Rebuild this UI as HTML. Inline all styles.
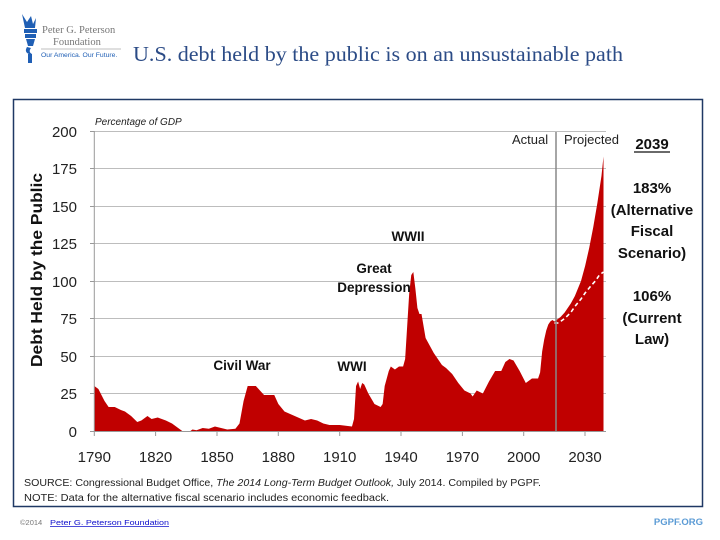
<!DOCTYPE html>
<html><head><meta charset="utf-8"><style>
html,body{margin:0;padding:0;background:#fff;}
body{width:720px;height:540px;overflow:hidden;position:relative;font-family:"Liberation Sans",sans-serif;}
</style></head><body>
<svg width="720" height="540" viewBox="0 0 720 540" xmlns="http://www.w3.org/2000/svg" style="position:absolute;left:0;top:0">
<!-- logo -->
<g fill="#1f5fb5">
<path d="M22 14 L27 22 L31 16 L33 24 L36 18 L35 28 L25 28 Z"/>
<rect x="24" y="29" width="13" height="4"/>
<rect x="25" y="34" width="11" height="4"/>
<path d="M26 39 L35 39 L33 46 L28 46 Z"/>
<path d="M27 47 Q24 52 29 54 L32 54 Q28 52 31 48 Z"/>
<rect x="28" y="54" width="4" height="9"/>
</g>
<text x="42" y="33" font-family="Liberation Serif,serif" font-size="10.5" fill="#777">Peter G. Peterson</text>
<text x="53" y="45" font-family="Liberation Serif,serif" font-size="10.5" fill="#777">Foundation</text>
<line x1="41" y1="49" x2="121" y2="49" stroke="#aaa" stroke-width="0.8"/>
<text x="41" y="57" font-size="6.8" fill="#1f5fb5">Our America. Our Future.</text>
<text x="133" y="61" font-family="Liberation Serif,serif" font-size="21.5" fill="#2b4b86" textLength="490" lengthAdjust="spacingAndGlyphs">U.S. debt held by the public is on an unsustainable path</text>

<!-- box -->
<rect x="13.5" y="99.5" width="689" height="407" fill="none" stroke="#1f3864" stroke-width="1.5"/>

<!-- gridlines -->
<g stroke="#bdbdbd" stroke-width="1">
<line x1="94" y1="131.5" x2="606" y2="131.5"/>
<line x1="94" y1="168.5" x2="606" y2="168.5"/>
<line x1="94" y1="206.5" x2="606" y2="206.5"/>
<line x1="94" y1="243.5" x2="606" y2="243.5"/>
<line x1="94" y1="281.5" x2="606" y2="281.5"/>
<line x1="94" y1="318.5" x2="606" y2="318.5"/>
<line x1="94" y1="356.5" x2="606" y2="356.5"/>
<line x1="94" y1="393.5" x2="606" y2="393.5"/>
</g>

<!-- area -->
<g transform="translate(94.3 431) scale(2.045 -1.5)">
<polygon fill="#c00000" points="0,0 0,30 2,28 5,20 7,16 10,16 13,14 15,13 18,10 21,6 23,7 26,10 28,8 31,9 35,7 38,5 41,2 43,0 45,0 47,0 48,1 50,0.5 53,2 56,1.5 59,3 62,2 65,1 69,1.5 71,5 73,20 75,30 79,30 83,24 88,24 90,18 93,13 98,10 103,7 106,8 109,7 112,5 115,4 120,4 123,3.5 126,3 127,8 128,30 129,33 130,28 131,32 132,31 134,25 137,18 140,16 141,18 142,30 144,40 145,43 147,41 149,43 151,43 152,48 153,70 154,92 155,104 156,106 157,95 158,82 159,78 160,78 162,62 164,57 166,52 168,48 170,44 172,42 175,38 178,32 181,27 184,25 185,23 187,27 190,25 193,33 196,40 199,40 201,46 203,48 205,47 208,40 211,32 214,35 217,35 218,39 219,53 220,61 221,67 222,71 223,73 224,74 225,73 228,76 230,79 233,85 235,90 238,100 240,110 242,122 244,136 246,152 248,170 249,183 249,0"/>
<polyline fill="none" stroke="#fff" stroke-width="1.6" stroke-dasharray="4 3" vector-effect="non-scaling-stroke" points="225,72 227,72 230,75 233,79 235,83 238,88 240,92 243,97 245,100 247,104 249,106"/>
</g>

<!-- vertical divider -->
<line x1="556" y1="132" x2="556" y2="431" stroke="#888" stroke-width="1.5"/>

<!-- axes -->
<line x1="94.3" y1="131" x2="94.3" y2="431" stroke="#999" stroke-width="1"/>
<line x1="90" y1="431.5" x2="606" y2="431.5" stroke="#999" stroke-width="1"/>
<g stroke="#999" stroke-width="1">
<line x1="94.3" y1="431" x2="94.3" y2="436"/><line x1="155.6" y1="431" x2="155.6" y2="436"/><line x1="217" y1="431" x2="217" y2="436"/><line x1="278.3" y1="431" x2="278.3" y2="436"/><line x1="339.7" y1="431" x2="339.7" y2="436"/><line x1="401" y1="431" x2="401" y2="436"/><line x1="462.4" y1="431" x2="462.4" y2="436"/><line x1="523.7" y1="431" x2="523.7" y2="436"/><line x1="585" y1="431" x2="585" y2="436"/>
<line x1="90" y1="131.5" x2="94" y2="131.5"/><line x1="90" y1="168.5" x2="94" y2="168.5"/><line x1="90" y1="206.5" x2="94" y2="206.5"/><line x1="90" y1="243.5" x2="94" y2="243.5"/><line x1="90" y1="281.5" x2="94" y2="281.5"/><line x1="90" y1="318.5" x2="94" y2="318.5"/><line x1="90" y1="356.5" x2="94" y2="356.5"/><line x1="90" y1="393.5" x2="94" y2="393.5"/>
</g>

<g font-size="15" fill="#222" text-anchor="end">
<text x="77" y="137">200</text><text x="77" y="174">175</text><text x="77" y="212">150</text><text x="77" y="249">125</text><text x="77" y="287">100</text><text x="77" y="324">75</text><text x="77" y="362">50</text><text x="77" y="399">25</text><text x="77" y="437">0</text>
</g>
<g font-size="15" fill="#222" text-anchor="middle">
<text x="94.3" y="462">1790</text><text x="155.6" y="462">1820</text><text x="217" y="462">1850</text><text x="278.3" y="462">1880</text><text x="339.7" y="462">1910</text><text x="401" y="462">1940</text><text x="462.4" y="462">1970</text><text x="523.7" y="462">2000</text><text x="585" y="462">2030</text>
</g>
<text transform="translate(42 270) rotate(-90)" text-anchor="middle" font-size="16" font-weight="bold" fill="#111" textLength="194" lengthAdjust="spacingAndGlyphs">Debt Held by the Public</text>
<text x="95" y="125" font-size="10" font-style="italic" fill="#222">Percentage of GDP</text>

<g font-size="13" fill="#222">
<text x="512" y="144">Actual</text><text x="564" y="144">Projected</text>
</g>
<g font-size="13.5" font-weight="bold" fill="#111" text-anchor="middle">
<text x="242" y="370">Civil War</text>
<text x="352" y="371">WWI</text>
<text x="408" y="241">WWII</text>
<text x="374" y="273">Great</text>
<text x="374" y="292">Depression</text>
</g>
<g font-size="15" font-weight="bold" fill="#111" text-anchor="middle">
<text x="652" y="149">2039</text>
<line x1="634" y1="152" x2="670" y2="152" stroke="#111" stroke-width="1.2"/>
<text x="652" y="193">183%</text>
<text x="652" y="215">(Alternative</text>
<text x="652" y="236">Fiscal</text>
<text x="652" y="258">Scenario)</text>
<text x="652" y="301">106%</text>
<text x="652" y="323">(Current</text>
<text x="652" y="344">Law)</text>
</g>

<g font-size="10" fill="#222">
<text x="24" y="486" textLength="517" lengthAdjust="spacingAndGlyphs">SOURCE: Congressional Budget Office, <tspan font-style="italic">The 2014 Long-Term Budget Outlook,</tspan> July 2014. Compiled by PGPF.</text>
<text x="24" y="501" textLength="365" lengthAdjust="spacingAndGlyphs">NOTE: Data for the alternative fiscal scenario includes economic feedback.</text>
</g>

<text x="20" y="525" font-size="7.5" fill="#777">©2014</text>
<text x="50" y="525" font-size="7.5" fill="#1010cc" text-decoration="underline" textLength="119" lengthAdjust="spacingAndGlyphs">Peter G. Peterson  Foundation</text>
<text x="703" y="525" font-size="9.5" font-weight="bold" fill="#5b9bd5" text-anchor="end">PGPF.ORG</text>
</svg>
</body></html>
